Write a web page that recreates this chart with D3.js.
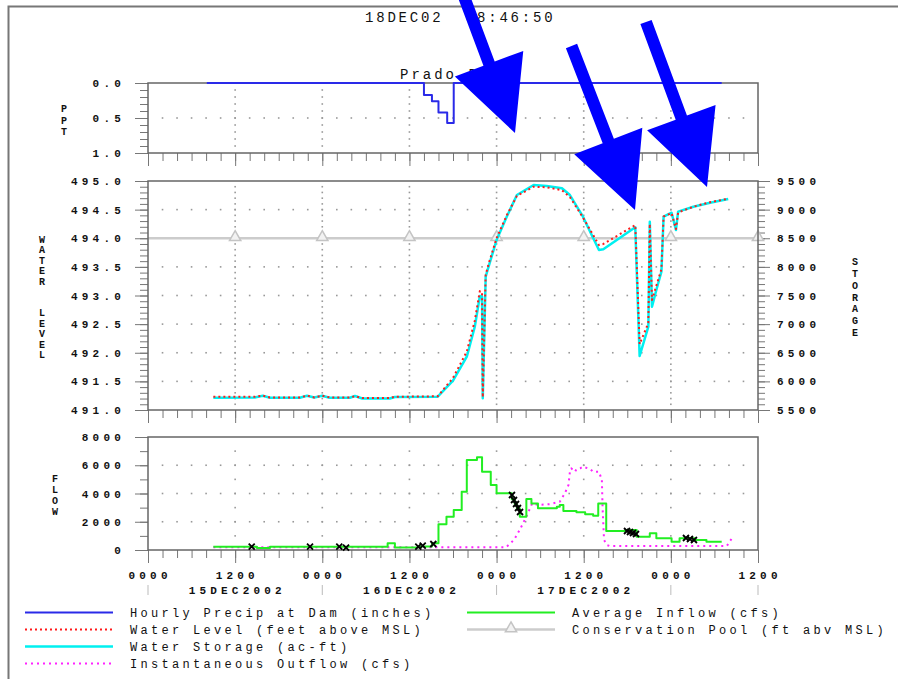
<!DOCTYPE html>
<html>
<head>
<meta charset="utf-8">
<script src="https://cdn.jsdelivr.net/npm/d3@7"></script>
<style>
  body { margin: 0; background: #fff; }
  svg { display: block; }
</style>
</head>
<body>
<svg id="chart" width="898" height="679"></svg>
<script>
// ---- data (hours counted from 15DEC2002 0000) ----
const precipHours = [8.1, 38, 39.1, 40, 41.2, 42.1, 79];
const precipInches = [0, 0.17, 0.26, 0.42, 0.57, 0, 0];

const storageHours = [9, 14.7, 15.8, 16.8, 20.9, 21.9, 22.9, 24, 25, 27.8, 28.5, 29.5, 33.3, 34, 39.9, 42, 43.9, 45, 45.7, 46, 46.1, 46.5, 46.9, 48, 49.4, 50.8, 53.1, 54.9, 57, 58.1, 59.9, 61.1, 62.1, 62.7, 67.1, 67.7, 68.9, 69.1, 69.4, 70, 70.7, 71, 72.1, 72.7, 73, 75.1, 77.4, 79.9];
const storageAcFt = [5715, 5718, 5750, 5715, 5715, 5750, 5718, 5750, 5715, 5715, 5745, 5700, 5700, 5727, 5732, 6012, 6431, 6955, 7491, 7479, 5704, 7828, 8003, 8469, 8876, 9255, 9430, 9413, 9372, 9255, 8876, 8557, 8295, 8307, 8691, 6443, 6955, 8789, 7304, 7596, 7916, 8876, 8946, 8644, 8964, 9051, 9121, 9186];

const levelHours = storageHours;
const levelFeet = [491.23, 491.23, 491.25, 491.22, 491.22, 491.25, 491.22, 491.25, 491.22, 491.22, 491.24, 491.21, 491.21, 491.23, 491.24, 491.56, 492.02, 492.56, 493.08, 493.05, 491.22, 493.36, 493.55, 494.0, 494.4, 494.74, 494.9, 494.89, 494.84, 494.72, 494.36, 494.1, 493.88, 493.9, 494.23, 492.15, 492.52, 494.25, 492.92, 493.17, 493.46, 494.38, 494.44, 494.16, 494.45, 494.55, 494.63, 494.69];

const inflowHours = [9, 15, 16.8, 33, 34, 37.2, 39.1, 40, 41.1, 42.1, 43.2, 43.9, 45.3, 46, 47.2, 48, 50.1, 50.5, 50.8, 51.2, 52.1, 52.8, 53.7, 56.3, 56.7, 57.2, 59, 60.2, 61.3, 62, 63.1, 65.9, 67.3, 69.1, 70, 72.1, 73.2, 75.3, 76.9, 79];
const inflowCfs = [234, 150, 234, 470, 180, 250, 470, 1820, 2360, 2830, 4130, 6370, 6560, 5540, 4600, 4010, 3600, 3250, 2950, 2360, 3610, 3300, 2950, 3070, 3190, 2760, 2670, 2530, 2430, 3300, 1350, 1420, 940, 1180, 830, 590, 830, 710, 590, 590];

const outflowHours = [9, 49.3, 50.4, 51.3, 52.2, 52.9, 53.7, 55.3, 56.7, 57.4, 57.9, 58.1, 58.3, 58.8, 59, 59.5, 59.9, 60.9, 61.3, 62.1, 62.5, 62.6, 62.8, 63.2, 63.6, 79.7, 80.4];
const outflowCfs = [200, 190, 710, 1530, 2480, 3300, 3190, 3240, 3420, 4010, 4600, 5540, 5780, 5540, 5730, 5780, 5900, 5730, 5540, 5540, 4960, 2950, 710, 350, 280, 280, 830];

const obsHours = [14.28, 22.31, 26.34, 27.27, 37.22, 37.83, 39.29, 50.12, 50.4, 50.68, 50.95, 51.23, 65.96, 66.37, 66.78, 67.2, 74.08, 74.63, 75.18];
const obsCfs = [234, 234, 234, 163, 234, 304, 425, 3894, 3540, 3257, 2973, 2690, 1345, 1274, 1204, 1133, 850, 779, 708];

const poolLevel = 494.0;
const poolMarkHours = [12, 24, 36, 48, 60, 72, 84];

const xTickLabels = ['0000', '1200', '0000', '1200', '0000', '1200', '0000', '1200'];
const dateLabels = ['15DEC2002', '16DEC2002', '17DEC2002'];

const legendLeft = [
  ['precip', 'Hourly Precip at Dam (inches)'],
  ['level', 'Water Level (feet above MSL)'],
  ['storage', 'Water Storage (ac-ft)'],
  ['outflow', 'Instantaneous Outflow (cfs)']
];
const legendRight = [
  ['inflow', 'Average Inflow (cfs)'],
  ['pool', 'Conservation Pool (ft abv MSL)']
];

// ---- styles ----
const MONO = '"Liberation Mono", "DejaVu Sans Mono", monospace';
const style = {
  precip: { stroke: '#2a2ae8', width: 2, dash: null },
  level: { stroke: '#ff1a1a', width: 2, dash: '2,3' },
  storage: { stroke: '#00f0f0', width: 2.5, dash: null },
  outflow: { stroke: '#ff22ff', width: 2, dash: '2,4' },
  inflow: { stroke: '#22ee22', width: 2, dash: null },
  pool: { stroke: '#cccccc', width: 2.5, dash: null }
};
const frameColor = '#666';
const tickColor = '#777';

const svg = d3.select('#chart');

const x = d3.scaleLinear().domain([0, 84]).range([148, 758]);
const yPpt = d3.scaleLinear().domain([0, 1]).range([83, 153]);
const yLevel = d3.scaleLinear().domain([491, 495]).range([410, 181]);
const yStor = d3.scaleLinear().domain([5500, 9500]).range([410, 181]);
const yFlow = d3.scaleLinear().domain([0, 8000]).range([550, 437]);

const xMinor = d3.range(0, 85, 2);
const xMajor = d3.range(0, 85, 12);
const xGrid = d3.range(12, 84, 12);

// outer frame of the page
svg.append('rect').attr('x', 8.5).attr('y', 6.5).attr('width', 910).attr('height', 700)
  .attr('fill', 'none').attr('stroke', '#777').attr('stroke-width', 2);

function styleAxis(g) {
  g.select('.domain').remove();
  g.selectAll('line').attr('stroke', tickColor);
  g.selectAll('text').attr('fill', '#111').attr('font-family', MONO)
    .attr('font-size', 11).attr('font-weight', 'bold').style('letter-spacing', '4.2px');
}

function panel(y, yMinor, yMajor, yGridVals, fmt) {
  const g = svg.append('g');
  const r = y.range();
  const top = Math.min(r[0], r[1]), bot = Math.max(r[0], r[1]);

  // dotted grid
  const dots = g.append('g').attr('fill', '#999');
  xGrid.forEach(h => {
    yMinor.forEach(v => {
      const yy = y(v);
      if (yy <= top + 1 || yy >= bot - 1) return;
      dots.append('rect').attr('x', x(h) - 0.8).attr('y', yy - 0.8).attr('width', 1.6).attr('height', 1.6);
    });
  });
  yGridVals.forEach(v => {
    xMinor.forEach(h => {
      if (h <= 0 || h >= 84) return;
      dots.append('rect').attr('x', x(h) - 0.8).attr('y', y(v) - 0.8).attr('width', 1.6).attr('height', 1.6);
    });
  });

  // left axis
  g.append('g').attr('transform', 'translate(148,0)')
    .call(d3.axisLeft(y).tickValues(yMinor).tickSize(8).tickFormat(''))
    .call(styleAxis);
  g.append('g').attr('transform', 'translate(148,0)')
    .call(d3.axisLeft(y).tickValues(yMajor).tickSize(13).tickPadding(10).tickFormat(fmt))
    .call(styleAxis);

  // bottom ticks
  g.append('g').attr('transform', `translate(0,${bot})`)
    .call(d3.axisBottom(x).tickValues(xMinor).tickSize(8).tickFormat(''))
    .call(styleAxis);
  g.append('g').attr('transform', `translate(0,${bot})`)
    .call(d3.axisBottom(x).tickValues(xMajor).tickSize(13).tickFormat(''))
    .call(styleAxis);

  return g;
}

function frame(y) {
  const r = y.range();
  svg.append('rect').attr('x', 148).attr('y', Math.min(r[0], r[1]))
    .attr('width', 610).attr('height', Math.abs(r[0] - r[1]))
    .attr('fill', 'none').attr('stroke', frameColor).attr('stroke-width', 1.5);
}

// ---- top panel: precipitation ----
panel(yPpt, d3.range(0, 1.01, 0.1).map(d => +d.toFixed(1)), [0, 0.5, 1], [0.5], d3.format('.1f'));
frame(yPpt);

// ---- middle panel: level / storage ----
panel(yLevel, d3.range(491, 495.01, 0.1).map(d => +d.toFixed(1)), d3.range(491, 495.01, 0.5), [491.5, 492, 492.5, 493, 493.5, 494.5], d3.format('.1f'));
// right axis
svg.append('g').attr('transform', 'translate(758,0)')
  .call(d3.axisRight(yStor).tickValues(d3.range(5500, 9501, 100)).tickSize(7).tickFormat(''))
  .call(styleAxis);
svg.append('g').attr('transform', 'translate(758,0)')
  .call(d3.axisRight(yStor).tickValues(d3.range(5500, 9501, 500)).tickSize(12).tickPadding(7).tickFormat(d3.format('d')))
  .call(styleAxis);

// ---- bottom panel: flow ----
panel(yFlow, d3.range(0, 8001, 1000), d3.range(0, 8001, 2000), [2000, 4000, 6000], d3.format('d'));

// x labels under bottom panel
const xl = svg.append('g').attr('font-family', MONO).attr('font-size', 11).attr('font-weight', 'bold')
  .attr('fill', '#111').style('letter-spacing', '4.2px');
xl.selectAll('text.tl').data(xMajor).join('text')
  .attr('x', d => x(d) + 2.1).attr('y', 579).attr('text-anchor', 'middle')
  .text((d, i) => xTickLabels[i]);
xl.selectAll('text.dl').data(dateLabels).join('text')
  .attr('class', 'dl')
  .attr('x', (d, i) => x(12 + 24 * i) + 2.1).attr('y', 594).attr('text-anchor', 'middle')
  .text(d => d);
svg.append('g').selectAll('line').data([0, 24, 48, 72, 84]).join('line')
  .attr('x1', d => x(d)).attr('x2', d => x(d)).attr('y1', 585).attr('y2', 595)
  .attr('stroke', '#bbb').attr('stroke-width', 1);

// ---- series ----
function series(hours, vals, y, key, curve) {
  const s = style[key];
  const pts = hours.map((h, i) => [h, vals[i]]);
  svg.append('path').datum(pts)
    .attr('d', d3.line().x(d => x(d[0])).y(d => y(d[1])).curve(curve || d3.curveLinear))
    .attr('fill', 'none').attr('stroke', s.stroke).attr('stroke-width', s.width)
    .attr('stroke-dasharray', s.dash).attr('stroke-linejoin', 'round');
}

// conservation pool
svg.append('line').attr('x1', x(0)).attr('x2', x(84)).attr('y1', yLevel(poolLevel)).attr('y2', yLevel(poolLevel))
  .attr('stroke', style.pool.stroke).attr('stroke-width', style.pool.width);
const tri = d3.symbol().type(d3.symbolTriangle).size(55);
svg.append('g').selectAll('path').data(poolMarkHours).join('path')
  .attr('transform', d => `translate(${x(d)},${yLevel(poolLevel) - 1})`)
  .attr('d', tri).attr('fill', '#f2f2f2').attr('stroke', '#c4c4c4').attr('stroke-width', 1.5);

series(storageHours, storageAcFt, yStor, 'storage');
series(levelHours, levelFeet, yLevel, 'level');

series(outflowHours, outflowCfs, yFlow, 'outflow');
series(inflowHours, inflowCfs, yFlow, 'inflow', d3.curveStepAfter);

frame(yLevel);
frame(yFlow);

series(precipHours, precipInches, yPpt, 'precip', d3.curveStepAfter);

// observed flow markers
svg.append('g').selectAll('path').data(obsHours.map((h, i) => [h, obsCfs[i]])).join('path')
  .attr('transform', d => `translate(${x(d[0])},${yFlow(d[1])})`)
  .attr('d', 'M-3,-3L3,3M-3,3L3,-3')
  .attr('stroke', '#000').attr('stroke-width', 1.8).attr('fill', 'none');

// ---- axis titles (stacked letters) ----
function stacked(str, cx, cy, step) {
  const chars = str.split('');
  const y0 = cy - (chars.length - 1) * step / 2;
  const g = svg.append('g').attr('font-family', MONO).attr('font-size', 10).attr('font-weight', 'bold')
    .attr('fill', '#111').attr('text-anchor', 'middle');
  chars.forEach((c, i) => g.append('text').attr('x', cx).attr('y', y0 + i * step + 3.5).text(c));
}
stacked('PPT', 64, 120, 11.5);
stacked('WATER  LEVEL', 42, 297, 10.5);
stacked('STORAGE', 855, 297, 11.8);
stacked('FLOW', 55, 495, 11.3);

// ---- titles ----
svg.append('text').attr('x', 365).attr('y', 22).attr('font-family', MONO).attr('font-size', 14)
  .attr('fill', '#111').style('letter-spacing', '2.8px').style('white-space', 'pre')
  .text('18DEC02  08:46:50');
svg.append('text').attr('x', 400).attr('y', 79).attr('font-family', MONO).attr('font-size', 14)
  .attr('fill', '#111').style('letter-spacing', '3px').text('Prado Dam');

// ---- legend ----
function legendRow(key, label, x0, yy) {
  const s = style[key];
  svg.append('line').attr('x1', x0).attr('x2', x0 + 88).attr('y1', yy).attr('y2', yy)
    .attr('stroke', s.stroke).attr('stroke-width', s.width).attr('stroke-dasharray', s.dash);
  if (key === 'pool') {
    svg.append('path').attr('transform', `translate(${x0 + 44},${yy - 1})`).attr('d', tri)
      .attr('fill', '#f2f2f2').attr('stroke', '#c4c4c4').attr('stroke-width', 1.5);
  }
  svg.append('text').attr('x', x0 + 105).attr('y', yy + 4).attr('font-family', MONO)
    .attr('font-size', 12).attr('fill', '#111').style('letter-spacing', '3.3px').text(label);
}
legendLeft.forEach((d, i) => legendRow(d[0], d[1], 25, 612.5 + i * 17));
legendRight.forEach((d, i) => legendRow(d[0], d[1], 467, 612.5 + i * 17));

// ---- annotation arrows ----
const arrows = [
  { tail: [463, -6], tip: [515, 133] },
  { tail: [571.5, 46], tip: [635, 210] },
  { tail: [646, 22], tip: [707, 187] }
];
arrows.forEach(a => {
  const dx = a.tip[0] - a.tail[0], dy = a.tip[1] - a.tail[1];
  const len = Math.hypot(dx, dy);
  const u = [dx / len, dy / len], n = [-u[1], u[0]];
  const b = [a.tip[0] - u[0] * 74, a.tip[1] - u[1] * 74];
  const sw = 6, hw = 36.5;
  const p = (o, k) => [o[0] + n[0] * k, o[1] + n[1] * k];
  const poly = [p(a.tail, sw), p(b, sw), p(b, hw), a.tip, p(b, -hw), p(b, -sw), p(a.tail, -sw)];
  svg.append('polygon').attr('points', poly.map(q => q.join(',')).join(' ')).attr('fill', '#0000ff');
});
</script>
</body>
</html>
